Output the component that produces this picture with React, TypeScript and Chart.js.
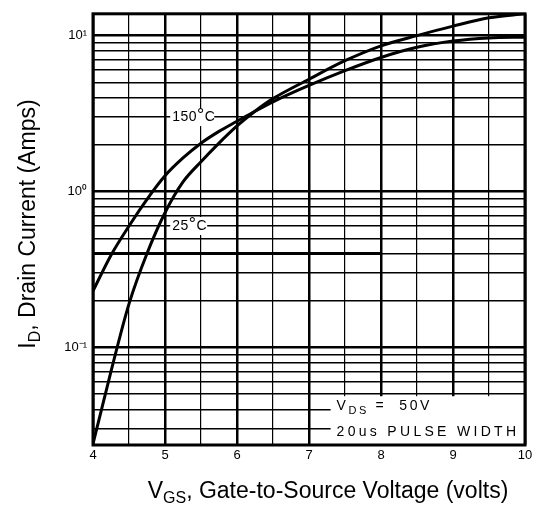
import React, { useEffect, useRef } from "react";
import { Chart, registerables } from "chart.js";

Chart.register(...registerables);

const vgs = [4, 4.25, 4.5, 4.75, 5, 5.25, 5.5, 5.75, 6, 6.25, 6.5, 7, 7.5, 8, 8.5, 9, 9.5, 10];
const id150C = [0.23, 0.39, 0.6, 0.89, 1.26, 1.64, 2.04, 2.43, 2.82, 3.27, 3.76, 4.79, 5.96, 7.24, 8.41, 9.22, 9.66, 9.77];
const id25C = [0.024, 0.07, 0.19, 0.4, 0.73, 1.15, 1.55, 2.04, 2.63, 3.27, 3.94, 5.25, 6.9, 8.6, 10.0, 11.5, 13.0, 13.8];
const strayX = [4, 8];
const strayY = [0.4, 0.4];

const xTickLabels = [4, 5, 6, 7, 8, 9, 10];
const yTickLabels: Record<string, string> = { "0.1": "10⁻¹", "1": "10⁰", "10": "10¹" };

const X_MIN = 4;
const X_MAX = 10;
const Y_MIN = 0.0236;
const Y_MAX = 13.8;

const FONT = "'Liberation Sans', Arial, sans-serif";

function isDecade(v: number) {
  const l = Math.log10(v);
  return Math.abs(l - Math.round(l)) < 1e-6;
}

function drawSpaced(ctx: CanvasRenderingContext2D, parts: { t: string; size: number; dy: number }[], x: number, y: number, spacing: number) {
  let cx = x;
  for (const p of parts) {
    ctx.font = `${p.size}px ${FONT}`;
    for (const ch of p.t) {
      ctx.fillText(ch, cx, y + p.dy);
      cx += ctx.measureText(ch).width + spacing;
    }
  }
  return cx;
}

function drawParts(ctx: CanvasRenderingContext2D, parts: { t: string; size: number; dy: number }[], centerX: number, baseY: number) {
  let w = 0;
  for (const p of parts) {
    ctx.font = `${p.size}px ${FONT}`;
    w += ctx.measureText(p.t).width;
  }
  let cx = centerX - w / 2;
  for (const p of parts) {
    ctx.font = `${p.size}px ${FONT}`;
    ctx.fillText(p.t, cx, baseY + p.dy);
    cx += ctx.measureText(p.t).width;
  }
}

const decorPlugin = {
  id: "decor",
  beforeDatasetsDraw(chart: any) {
    const ctx: CanvasRenderingContext2D = chart.ctx;
    const xs = chart.scales.x;
    const ys = chart.scales.y;
    ctx.save();
    ctx.fillStyle = "#fff";
    const l150x = xs.getPixelForValue(5.1);
    const l150y = ys.getPixelForValue(3);
    ctx.fillRect(l150x - 2, l150y - 9, 44, 18);
    const l25x = xs.getPixelForValue(5.1);
    const l25y = ys.getPixelForValue(0.6);
    ctx.fillRect(l25x - 2, l25y - 9, 37, 18);
    const bx = xs.getPixelForValue(7.3);
    const by = ys.getPixelForValue(0.05) + 2;
    ctx.fillRect(bx, by, chart.chartArea.right - bx, chart.chartArea.bottom - by);

    ctx.fillStyle = "#000";
    ctx.textBaseline = "middle";
    ctx.textAlign = "left";
    drawSpaced(ctx, [{ t: "150", size: 14, dy: 0 }, { t: "°", size: 18, dy: -1 }, { t: "C", size: 14, dy: 0 }], l150x, l150y, 0.5);
    drawSpaced(ctx, [{ t: "25", size: 14, dy: 0 }, { t: "°", size: 18, dy: -1 }, { t: "C", size: 14, dy: 0 }], l25x, l25y, 0.5);

    const tx = bx + 6;
    const ty1 = ys.getPixelForValue(0.042);
    const ty2 = ys.getPixelForValue(0.0285);
    drawSpaced(ctx, [{ t: "V", size: 14, dy: 0 }, { t: "DS", size: 11, dy: 5 }, { t: " =  50V", size: 14, dy: 0 }], tx, ty1, 2.6);
    drawSpaced(ctx, [{ t: "20us PULSE WIDTH", size: 14, dy: 0 }], tx, ty2, 3.3);
    ctx.restore();
  },
  afterDraw(chart: any) {
    const ctx: CanvasRenderingContext2D = chart.ctx;
    const a = chart.chartArea;
    ctx.save();
    ctx.strokeStyle = "#000";
    ctx.lineWidth = 3;
    ctx.strokeRect(a.left, a.top, a.right - a.left, a.bottom - a.top);

    ctx.fillStyle = "#000";
    ctx.textBaseline = "alphabetic";
    drawParts(
      ctx,
      [
        { t: "V", size: 23, dy: 0 },
        { t: "GS", size: 16, dy: 5 },
        { t: ", Gate-to-Source Voltage (volts)", size: 23, dy: 0 },
      ],
      328,
      498
    );
    ctx.translate(35, 224);
    ctx.rotate(-Math.PI / 2);
    drawParts(
      ctx,
      [
        { t: "I", size: 23, dy: 0 },
        { t: "D", size: 16, dy: 5 },
        { t: ", Drain Current (Amps)", size: 23, dy: 0 },
      ],
      0,
      0
    );
    ctx.restore();
  },
};

export default function App() {
  const ref = useRef<HTMLCanvasElement>(null);
  useEffect(() => {
    if (!ref.current) return;
    const line = (vals: number[], xsArr: number[]) => xsArr.map((x, i) => ({ x, y: vals[i] }));
    const common = {
      borderColor: "#000",
      borderWidth: 3,
      pointRadius: 0,
      fill: false,
    };
    const chart = new Chart(ref.current, {
      type: "line",
      data: {
        datasets: [
          { label: "150°C", data: line(id150C, vgs), cubicInterpolationMode: "monotone", ...common },
          { label: "25°C", data: line(id25C, vgs), cubicInterpolationMode: "monotone", ...common },
          { label: "stray", data: line(strayY, strayX), ...common },
        ],
      },
      options: {
        animation: false,
        responsive: true,
        maintainAspectRatio: false,
        layout: { padding: { top: 10, right: 16, left: 0, bottom: 0 } },
        plugins: { legend: { display: false }, tooltip: { enabled: false } },
        scales: {
          x: {
            type: "linear",
            min: X_MIN,
            max: X_MAX,
            afterFit: (s: any) => {
              s.height = 68;
            },
            afterBuildTicks: (s: any) => {
              const t = [];
              for (let v = X_MIN; v <= X_MAX + 1e-9; v += 0.5) t.push({ value: v });
              s.ticks = t;
            },
            ticks: {
              autoSkip: false,
              maxRotation: 0,
              color: "#000",
              font: { family: FONT, size: 13 },
              padding: 3,
              callback: (v: any) => (xTickLabels.includes(Number(v)) ? String(v) : ""),
            },
            grid: {
              color: "#000",
              lineWidth: (c: any) => (Number.isInteger(c.tick?.value) ? 2.5 : 1.2),
              drawTicks: false,
            },
            border: { display: false },
          },
          y: {
            type: "logarithmic",
            min: Y_MIN,
            max: Y_MAX,
            afterFit: (s: any) => {
              s.width = 93;
            },
            afterBuildTicks: (s: any) => {
              const t = [];
              for (let e = -2; e <= 1; e++) {
                for (let m = 1; m <= 9; m++) {
                  const v = Number((m * Math.pow(10, e)).toPrecision(3));
                  if (v > Y_MIN && v < Y_MAX) t.push({ value: v });
                }
              }
              s.ticks = t;
            },
            ticks: {
              autoSkip: false,
              color: "#000",
              font: { family: FONT, size: 13 },
              padding: 6,
              callback: (v: any) => yTickLabels[String(Number(v))] ?? "",
            },
            grid: {
              color: "#000",
              lineWidth: (c: any) => (c.tick && isDecade(c.tick.value) ? 2.5 : 1.5),
              drawTicks: false,
            },
            border: { display: false },
          },
        },
      },
      plugins: [decorPlugin],
    } as any);
    return () => chart.destroy();
  }, []);
  return (
    <div style={{ position: "absolute", left: 0, top: 0, width: 541, height: 513, background: "#fff" }}>
      <canvas ref={ref} />
    </div>
  );
}
